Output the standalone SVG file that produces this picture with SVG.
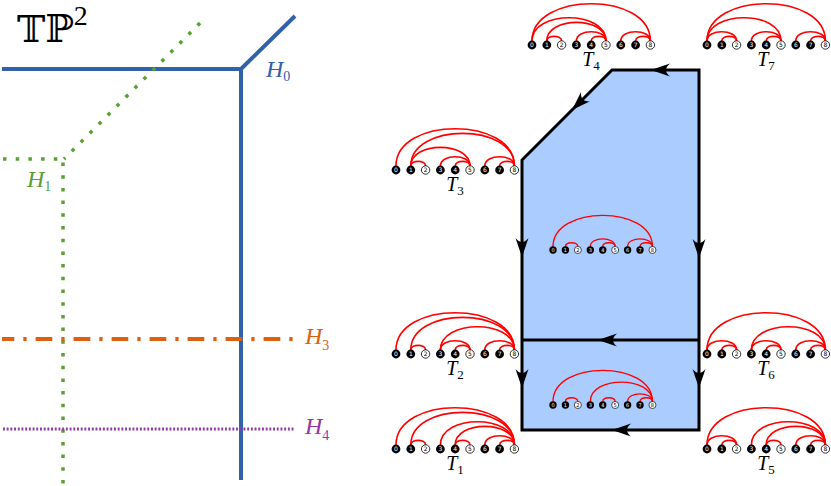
<svg xmlns="http://www.w3.org/2000/svg" xmlns:xlink="http://www.w3.org/1999/xlink" width="831" height="486" viewBox="0 0 831 486">
<style>
.arc{fill:none;stroke:#ff0000;stroke-width:1.6}
.nb{fill:#000}
.nw{fill:#fff;stroke:#000;stroke-width:0.8}
.tb{fill:#fff;font-family:"DejaVu Sans",sans-serif;font-size:6px;text-anchor:middle}
.tw{fill:#000;font-family:"DejaVu Sans",sans-serif;font-size:6px;text-anchor:middle}
.lab{font-family:"Liberation Serif",serif;font-style:italic;font-size:20px;text-anchor:middle;fill:#000}
.sub{font-style:normal;font-size:13px}
.hl{font-family:"Liberation Serif",serif;font-style:italic;font-size:24px}
.hs{font-style:normal;font-size:14px}
.edge{fill:none;stroke:#000;stroke-width:3}
</style>
<defs>
<path id="ah" d="M0,0 L-19,-6.5 Q-11,0 -19,6.5 Z" fill="#000"/>
<g id="nodes">
<circle class="nb" cx="0" cy="0" r="4.4"/><text class="tb" x="0" y="2.1">0</text>
<circle class="nb" cx="14.8" cy="0" r="4.4"/><text class="tb" x="14.8" y="2.1">1</text>
<circle class="nw" cx="29.6" cy="0" r="4.2"/><text class="tw" x="29.6" y="2.1">2</text>
<circle class="nb" cx="44.4" cy="0" r="4.4"/><text class="tb" x="44.4" y="2.1">3</text>
<circle class="nb" cx="59.2" cy="0" r="4.4"/><text class="tb" x="59.2" y="2.1">4</text>
<circle class="nw" cx="74" cy="0" r="4.2"/><text class="tw" x="74" y="2.1">5</text>
<circle class="nb" cx="88.8" cy="0" r="4.4"/><text class="tb" x="88.8" y="2.1">6</text>
<circle class="nb" cx="103.6" cy="0" r="4.4"/><text class="tb" x="103.6" y="2.1">7</text>
<circle class="nw" cx="118.4" cy="0" r="4.2"/><text class="tw" x="118.4" y="2.1">8</text>
</g>
<path id="a08" class="arc" d="M0,-4 C0,-53.7 118.4,-53.7 118.4,-4"/>
<path id="a05" class="arc" d="M0,-4 C0,-35.1 74,-35.1 74,-4"/>
<path id="a02" class="arc" d="M0,-4 C0,-16.4 29.6,-16.4 29.6,-4"/>
<path id="a15" class="arc" d="M14.8,-4 C14.8,-28.9 74,-28.9 74,-4"/>
<path id="a18" class="arc" d="M14.8,-4 C14.8,-47.5 118.4,-47.5 118.4,-4"/>
<path id="a12" class="arc" d="M14.8,-4 C14.8,-10.2 29.6,-10.2 29.6,-4"/>
<path id="a35" class="arc" d="M44.4,-4 C44.4,-16.4 74,-16.4 74,-4"/>
<path id="a38" class="arc" d="M44.4,-4 C44.4,-35.1 118.4,-35.1 118.4,-4"/>
<path id="a45" class="arc" d="M59.2,-4 C59.2,-10.2 74,-10.2 74,-4"/>
<path id="a48" class="arc" d="M59.2,-4 C59.2,-28.9 118.4,-28.9 118.4,-4"/>
<path id="a68" class="arc" d="M88.8,-4 C88.8,-16.4 118.4,-16.4 118.4,-4"/>
<path id="a78" class="arc" d="M103.6,-4 C103.6,-10.2 118.4,-10.2 118.4,-4"/>
</defs>

<g id="left-panel">
<g id="tp2">
<text x="17" y="42" font-family="DejaVu Serif,serif" font-size="38">𝕋ℙ<tspan font-family="Liberation Serif,serif" font-size="28" dy="-17">2</tspan></text>
</g>
<g id="H0">
<path d="M2,69 H241 V480 M241,69 L295,16" fill="none" stroke="#3161a8" stroke-width="4" stroke-linejoin="miter"/>
<text class="hl" x="266" y="77" fill="#3161a8">H<tspan class="hs" dy="4">0</tspan></text>
</g>
<g id="H1">
<path d="M200,23 L64,159 M3,159 H63 V486" fill="none" stroke="#5b9f35" stroke-width="3.5" stroke-dasharray="3.5 9.2"/>
<text class="hl" x="27" y="187" fill="#5b9f35">H<tspan class="hs" dy="4">1</tspan></text>
</g>
<g id="H3">
<path d="M2,339 H296" fill="none" stroke="#dd6010" stroke-width="4" stroke-dasharray="16.7 9 3.3 9" stroke-dashoffset="4.4"/>
<text class="hl" x="305" y="344" fill="#dd6010">H<tspan class="hs" dy="6">3</tspan></text>
</g>
<g id="H4">
<path d="M3,429 H294" fill="none" stroke="#9237a8" stroke-width="3.2" stroke-dasharray="1.9 1.8"/>
<text class="hl" x="305" y="434" fill="#9237a8">H<tspan class="hs" dy="6">4</tspan></text>
</g>
</g>

<g id="polygon">
<path d="M612,70 H699 V430 H522 V160 Z" fill="#aaccff" stroke="#000" stroke-width="3" stroke-linejoin="miter"/>
<path class="edge" d="M522,340 H699"/>
</g>

<g id="connectors">
<use xlink:href="#ah" href="#ah" transform="translate(651,70) rotate(180)"/>
<use xlink:href="#ah" href="#ah" transform="translate(572,110) rotate(135.6)"/>
<use xlink:href="#ah" href="#ah" transform="translate(522,257) rotate(90)"/>
<use xlink:href="#ah" href="#ah" transform="translate(699,258) rotate(90)"/>
<use xlink:href="#ah" href="#ah" transform="translate(598,340) rotate(180)"/>
<use xlink:href="#ah" href="#ah" transform="translate(522,388) rotate(90)"/>
<use xlink:href="#ah" href="#ah" transform="translate(699,388) rotate(90)"/>
<use xlink:href="#ah" href="#ah" transform="translate(612,430) rotate(180)"/>
</g>

<g id="T4" transform="translate(532,45)">
<use href="#a08"/><use href="#a05"/><use href="#a15"/><use href="#a12"/><use href="#a35"/><use href="#a45"/><use href="#a68"/><use href="#a78"/>
<use href="#nodes"/>
<text class="lab" x="59" y="21">T<tspan class="sub" dy="4">4</tspan></text>
</g>
<g id="T7" transform="translate(707,45)">
<use href="#a08"/><use href="#a05"/><use href="#a02"/><use href="#a12"/><use href="#a35"/><use href="#a45"/><use href="#a68"/><use href="#a78"/>
<use href="#nodes"/>
<text class="lab" x="59" y="21">T<tspan class="sub" dy="4">7</tspan></text>
</g>
<g id="T3" transform="translate(396,170)">
<use href="#a08"/><use href="#a18"/><use href="#a15"/><use href="#a12"/><use href="#a35"/><use href="#a45"/><use href="#a68"/><use href="#a78"/>
<use href="#nodes"/>
<text class="lab" x="59" y="21">T<tspan class="sub" dy="4">3</tspan></text>
</g>
<g id="C1" transform="translate(553,250) scale(0.84)">
<use href="#a08"/><use href="#a12"/><use href="#a35"/><use href="#a45"/><use href="#a68"/><use href="#a78"/>
<use href="#nodes"/>
</g>
<g id="T2" transform="translate(396,354)">
<use href="#a08"/><use href="#a18"/><use href="#a12"/><use href="#a38"/><use href="#a35"/><use href="#a45"/><use href="#a68"/><use href="#a78"/>
<use href="#nodes"/>
<text class="lab" x="59" y="21">T<tspan class="sub" dy="4">2</tspan></text>
</g>
<g id="T6" transform="translate(707,354)">
<use href="#a08"/><use href="#a02"/><use href="#a12"/><use href="#a38"/><use href="#a35"/><use href="#a45"/><use href="#a68"/><use href="#a78"/>
<use href="#nodes"/>
<text class="lab" x="59" y="21">T<tspan class="sub" dy="4">6</tspan></text>
</g>
<g id="C2" transform="translate(553,405) scale(0.84)">
<use href="#a08"/><use href="#a12"/><use href="#a38"/><use href="#a45"/><use href="#a68"/><use href="#a78"/>
<use href="#nodes"/>
</g>
<g id="T1" transform="translate(396,449)">
<use href="#a08"/><use href="#a18"/><use href="#a12"/><use href="#a38"/><use href="#a48"/><use href="#a45"/><use href="#a68"/><use href="#a78"/>
<use href="#nodes"/>
<text class="lab" x="59" y="21">T<tspan class="sub" dy="4">1</tspan></text>
</g>
<g id="T5" transform="translate(707,449)">
<use href="#a08"/><use href="#a02"/><use href="#a12"/><use href="#a38"/><use href="#a48"/><use href="#a45"/><use href="#a68"/><use href="#a78"/>
<use href="#nodes"/>
<text class="lab" x="59" y="21">T<tspan class="sub" dy="4">5</tspan></text>
</g>
</svg>
